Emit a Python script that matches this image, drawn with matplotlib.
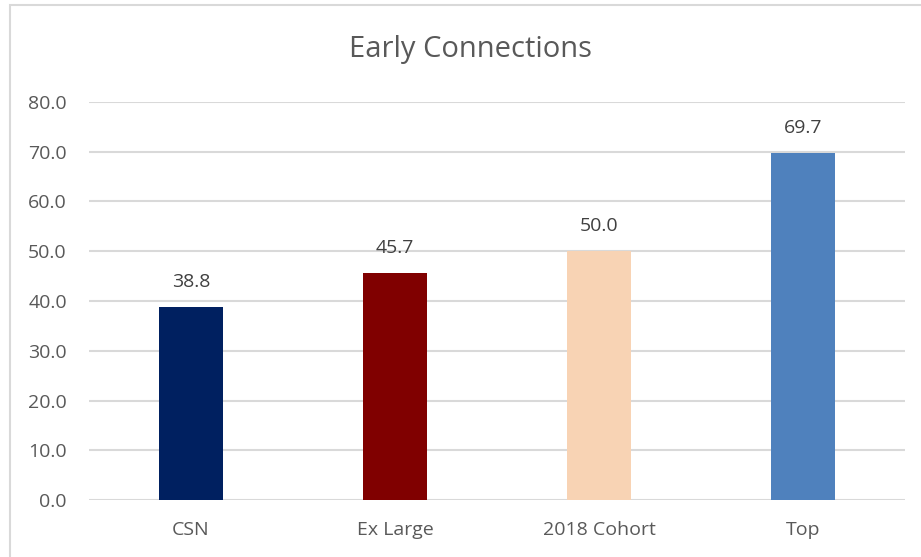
import matplotlib.pyplot as plt
from matplotlib.patches import Rectangle

# chart data
categories = ["CSN", "Ex Large", "2018 Cohort", "Top"]
values = [38.8, 45.7, 50.0, 69.7]
bar_colors = ["#002060", "#800000", "#F8D3B4", "#4F81BD"]

plt.rcParams['font.family'] = ['Open Sans', 'DejaVu Sans']

fig = plt.figure(figsize=(9.21, 5.57), dpi=100)
ax = fig.add_axes([89/921, 1 - 500/557, (905 - 89)/921, (500 - 102)/557])

x = range(len(categories))
ax.bar(x, values, width=0.314, color=bar_colors, zorder=3)

for xi, v in zip(x, values):
    ax.annotate("%.1f" % v, (xi, v), xytext=(0, 18), textcoords="offset points",
                ha="center", va="center", fontsize=14, color="#404040")

ax.set_xlim(-0.5, 3.5)
ax.set_ylim(0, 80)
ax.set_yticks(range(0, 81, 10))
ax.set_yticklabels(["%.1f" % t for t in range(0, 81, 10)])
ax.set_xticks(list(x))
ax.set_xticklabels(categories)
ax.tick_params(axis="y", length=0, pad=16, labelsize=14, labelcolor="#595959")
ax.tick_params(axis="x", length=0, pad=15, labelsize=14, labelcolor="#595959")
ax.grid(axis="y", color="#d9d9d9", linewidth=1.5, zorder=0)
for s in ax.spines.values():
    s.set_visible(False)

fig.text(470/921, 1 - 50/557, "Early Connections", ha="center", va="center",
         fontsize=21, color="#595959")

# outer chart frame
fig.add_artist(Rectangle((10/921, -0.1), 1.0, 1 - 5/557 + 0.1, transform=fig.transFigure,
                         fill=False, edgecolor="#d9d9d9", linewidth=1.5))

fig.savefig("out.png", dpi=100)
